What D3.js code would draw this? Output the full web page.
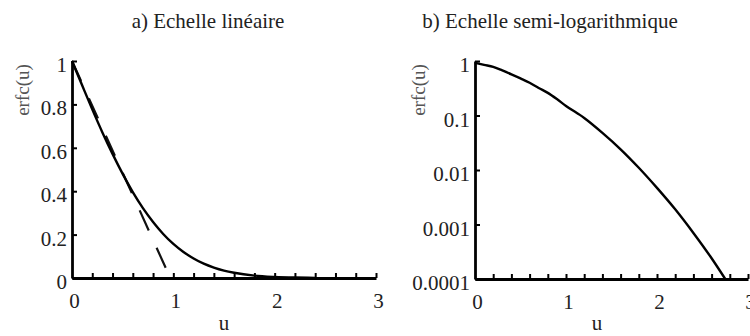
<!DOCTYPE html>
<html>
<head>
<meta charset="utf-8">
<script src="https://cdn.jsdelivr.net/npm/d3@7"></script>
<style>
  body { margin: 0; background: #fff; }
  svg text { font-family: "Liberation Serif", "DejaVu Serif", serif; fill: #222; }
  .domain { stroke: #000; stroke-width: 2.8px; }
  .tick line { stroke: #000; stroke-width: 2px; }
</style>
</head>
<body>
<svg></svg>
<script>
const width = 750;
const height = 336;

// erfc(u)
const uLin = [0, 0.1, 0.2, 0.3, 0.4, 0.5, 0.6, 0.7, 0.8, 0.9, 1.0, 1.1, 1.2, 1.3, 1.4, 1.5, 1.6, 1.8, 2.0, 2.2, 2.4];
const erfcLin = [1, 0.888, 0.777, 0.671, 0.572, 0.48, 0.396, 0.322, 0.258, 0.203, 0.157, 0.12, 0.09, 0.066, 0.048, 0.034, 0.024, 0.011, 0.005, 0.002, 0.0007];

const uLog = [0, 0.1, 0.2, 0.3, 0.4, 0.5, 0.6, 0.7, 0.8, 0.9, 1.0, 1.2, 1.4, 1.6, 1.8, 2.0, 2.2, 2.4, 2.6, 2.75];
const erfcLog = [0.93, 0.85, 0.78, 0.67, 0.57, 0.48, 0.4, 0.32, 0.26, 0.2, 0.15, 0.09, 0.048, 0.024, 0.011, 0.0047, 0.0019, 0.0007, 0.00024, 0.0001];

// dashed tangent on the linear panel
const dashU = [0, 0.97];
const dashV = [1, 0];

const xMinorTicks = [0.2, 0.4, 0.6, 0.8, 1, 1.2, 1.4, 1.6, 1.8, 2, 2.2, 2.4, 2.6, 2.8, 3];
const xLabelTicks = [0, 1, 2, 3];
const yLinTicks = [0, 0.2, 0.4, 0.6, 0.8, 1];
const yLogTicks = [0.0001, 0.001, 0.01, 0.1, 1];
const yLogLabels = ["0.0001", "0.001", "0.01", "0.1", "1"];

const svg = d3.select("svg").attr("width", width).attr("height", height);

const drawPanel = (opt) => {
  const g = svg.append("g");
  const x = d3.scaleLinear().domain([0, 3]).range(opt.xr);
  const y = opt.log
    ? d3.scaleLog().domain([0.0001, 1]).range(opt.yr)
    : d3.scaleLinear().domain([0, 1]).range(opt.yr);

  const line = d3.line().x((d) => x(d[0])).y((d) => y(d[1]));

  if (opt.dash) {
    g.append("path")
      .datum(dashU.map((u, i) => [u, dashV[i]]))
      .attr("d", line)
      .attr("fill", "none")
      .attr("stroke", "#111")
      .attr("stroke-width", 2.2)
      .attr("stroke-dasharray", "22,19");
  }

  g.append("path")
    .datum(opt.u.map((u, i) => [u, opt.v[i]]))
    .attr("d", line.curve(d3.curveMonotoneX))
    .attr("fill", "none")
    .attr("stroke", "#000")
    .attr("stroke-width", 2.4);

  // minor ticks, inward
  g.append("g")
    .attr("transform", "translate(0," + opt.yr[0] + ")")
    .call(d3.axisBottom(x).tickValues(xMinorTicks).tickSizeInner(-5).tickSizeOuter(0).tickFormat(""));
  // integer labels
  const xl = g.append("g")
    .attr("transform", "translate(0," + opt.yr[0] + ")")
    .call(d3.axisBottom(x).tickValues(xLabelTicks).tickSize(0).tickPadding(15).tickFormat(d3.format("d")));
  xl.select(".domain").remove();
  xl.selectAll("text").style("font-size", "21px").attr("dx", 2);

  const yAxis = d3.axisLeft(y).tickValues(opt.log ? yLogTicks : yLinTicks)
    .tickSizeInner(-5).tickSizeOuter(0).tickPadding(5);
  if (opt.log) yAxis.tickFormat((d, i) => yLogLabels[i]);
  else yAxis.tickFormat(d3.format("~g"));
  const ya = g.append("g")
    .attr("transform", "translate(" + opt.xr[0] + ",0)")
    .call(yAxis);
  ya.selectAll("text").style("font-size", "21px").attr("dy", "0.5em");

  g.append("text")
    .attr("x", opt.titleX).attr("y", 28)
    .attr("text-anchor", "middle")
    .style("font-size", "21px")
    .text(opt.title);

  g.append("text")
    .attr("x", opt.uX).attr("y", 330)
    .attr("text-anchor", "middle")
    .style("font-size", "21px")
    .text("u");

  g.append("text")
    .attr("transform", "translate(" + opt.yLabX + ",90) rotate(-90)")
    .attr("text-anchor", "middle")
    .style("font-size", "19px")
    .style("fill", "#555")
    .text("erfc(u)");
};

drawPanel({
  xr: [72, 376], yr: [278, 61], log: false,
  u: uLin, v: erfcLin, dash: true,
  title: "a) Echelle linéaire", titleX: 208, uX: 224, yLabX: 29
});

drawPanel({
  xr: [475, 748], yr: [279, 61], log: true,
  u: uLog, v: erfcLog, dash: false,
  title: "b) Echelle semi-logarithmique", titleX: 550, uX: 597, yLabX: 425
});
</script>
</body>
</html>
